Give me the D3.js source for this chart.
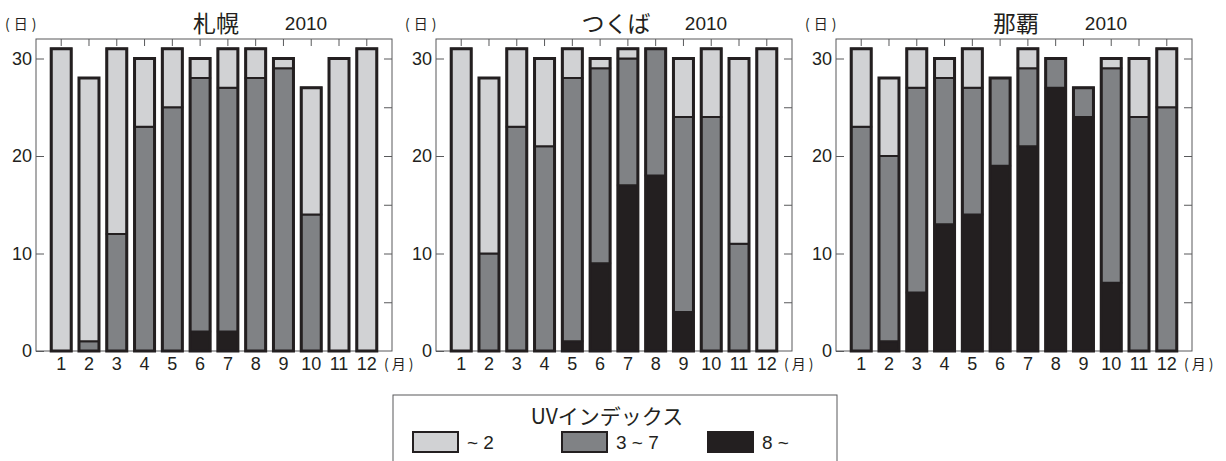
<!DOCTYPE html>
<html><head><meta charset="utf-8">
<script src="https://cdn.jsdelivr.net/npm/d3@7"></script>
<style>
body{margin:0;background:#fff;}
svg{display:block;}
text{font-family:"Liberation Sans",Arial,sans-serif;fill:#231f20;}
.jp{font-family:"Noto Sans CJK JP","Noto Sans",sans-serif;}
</style></head>
<body>
<svg id="c" width="1226" height="461"></svg>
<script>
const months = [1,2,3,4,5,6,7,8,9,10,11,12];
const stations = ["札幌","つくば","那覇"];
const year = "2010";
const yTicks = [0,10,20,30];
// days per UV index category (order: 8~ , 3~7 , ~2)
const sapporoHigh = [0,0,0,0,0,2,2,0,0,0,0,0];
const sapporoMid  = [0,1,12,23,25,26,25,28,29,14,0,0];
const sapporoLow  = [31,27,19,7,6,2,4,3,1,13,30,31];
const tsukubaHigh = [0,0,0,0,1,9,17,18,4,0,0,0];
const tsukubaMid  = [0,10,23,21,27,20,13,13,20,24,11,0];
const tsukubaLow  = [31,18,8,9,3,1,1,0,6,7,19,31];
const nahaHigh = [0,1,6,13,14,19,21,27,24,7,0,0];
const nahaMid  = [23,19,21,15,13,9,8,3,3,22,24,25];
const nahaLow  = [8,8,4,2,4,0,2,0,0,1,6,6];
const legendTitle = "UVインデックス";
const legendLabels = ["~ 2","3 ~ 7","8 ~"];
const colors = ["#d1d2d4","#808285","#231f20"]; // low, mid, high

const data = [
  {name:stations[0], high:sapporoHigh, mid:sapporoMid, low:sapporoLow},
  {name:stations[1], high:tsukubaHigh, mid:tsukubaMid, low:tsukubaLow},
  {name:stations[2], high:nahaHigh, mid:nahaMid, low:nahaLow}
];

const svg = d3.select("#c");
const x = d3.scaleBand().domain(months).range([36,392]).paddingInner(0.28).paddingOuter(0.5475);
const y = d3.scaleLinear().domain([0,32]).range([351,39]);
const stack = d3.stack().keys(["high","mid","low"]);

data.forEach((st,pi)=>{
  const g = svg.append("g").attr("transform",`translate(${pi*400},0)`);
  const rows = months.map((m,i)=>({month:m, high:st.high[i], mid:st.mid[i], low:st.low[i]}));
  const series = stack(rows);
  const colorFor = {high:colors[2], mid:colors[1], low:colors[0]};

  // frame
  g.append("rect").attr("x",36).attr("y",39).attr("width",356).attr("height",312)
    .attr("fill","none").attr("stroke","#58595b").attr("stroke-width",1);

  // axes (inward ticks)
  const ax = (sel)=>{sel.select(".domain").remove(); sel.selectAll("line").attr("stroke","#58595b");};
  g.append("g").attr("transform","translate(36,0)")
    .call(d3.axisLeft(y).tickValues(yTicks).tickSizeInner(-8).tickSizeOuter(0).tickPadding(4))
    .call(ax).call(s=>s.selectAll("text").attr("font-size",18).attr("font-family","Liberation Sans, Arial, sans-serif").attr("fill","#231f20"));
  g.append("g").attr("transform","translate(392,0)")
    .call(d3.axisRight(y).tickValues([5,10,15,20,25,30]).tickSizeInner(-8).tickSizeOuter(0).tickFormat(""))
    .call(ax);
  g.append("g").attr("transform","translate(0,39)")
    .call(d3.axisTop(x).tickSizeInner(-7).tickSizeOuter(0).tickFormat(""))
    .call(ax);
  g.append("g").attr("transform","translate(0,351)")
    .call(d3.axisBottom(x).tickSize(0).tickPadding(6))
    .call(ax).call(s=>s.selectAll("text").attr("font-size",18).attr("font-family","Liberation Sans, Arial, sans-serif").attr("fill","#231f20"));

  // bars
  series.forEach(s=>{
    g.append("g").selectAll("rect").data(s.filter(d=>d[1]>d[0])).join("rect")
      .attr("x",d=>x(d.data.month)).attr("width",x.bandwidth())
      .attr("y",d=>y(d[1])).attr("height",d=>y(d[0])-y(d[1]))
      .attr("fill",colorFor[s.key]).attr("stroke","#231f20").attr("stroke-width",2);
  });
  g.append("g").selectAll("rect").data(rows).join("rect")
    .attr("x",d=>x(d.month)).attr("width",x.bandwidth())
    .attr("y",d=>y(d.high+d.mid+d.low)).attr("height",d=>y(0)-y(d.high+d.mid+d.low))
    .attr("fill","none").attr("stroke","#231f20").attr("stroke-width",3);

  // titles
  g.append("text").attr("class","jp").attr("x",216).attr("y",32).attr("text-anchor","middle")
    .attr("font-size",23).attr("font-weight",400).text(st.name);
  g.append("text").attr("x",306).attr("y",30).attr("text-anchor","middle")
    .attr("font-size",19).text(year);
  g.append("text").attr("class","jp").attr("x",5).attr("y",29).attr("font-size",14)
    .attr("letter-spacing",4).text("(日)");
  g.append("text").attr("class","jp").attr("x",384).attr("y",369).attr("font-size",14)
    .attr("letter-spacing",3).text("(月)");
});

// legend
const lg = svg.append("g");
lg.append("rect").attr("x",393).attr("y",395).attr("width",444).attr("height",80)
  .attr("fill","none").attr("stroke","#58595b").attr("stroke-width",1);
lg.append("text").attr("class","jp").attr("x",607).attr("y",424).attr("text-anchor","middle")
  .attr("font-size",21).text(legendTitle);
const lx = [413,562,708];
legendLabels.forEach((lab,i)=>{
  lg.append("rect").attr("x",lx[i]).attr("y",432).attr("width",45).attr("height",20)
    .attr("fill",colors[i]).attr("stroke","#231f20").attr("stroke-width",2);
  lg.append("text").attr("x",lx[i]+54).attr("y",449).attr("font-size",19).text(lab);
});
</script>
</body></html>
